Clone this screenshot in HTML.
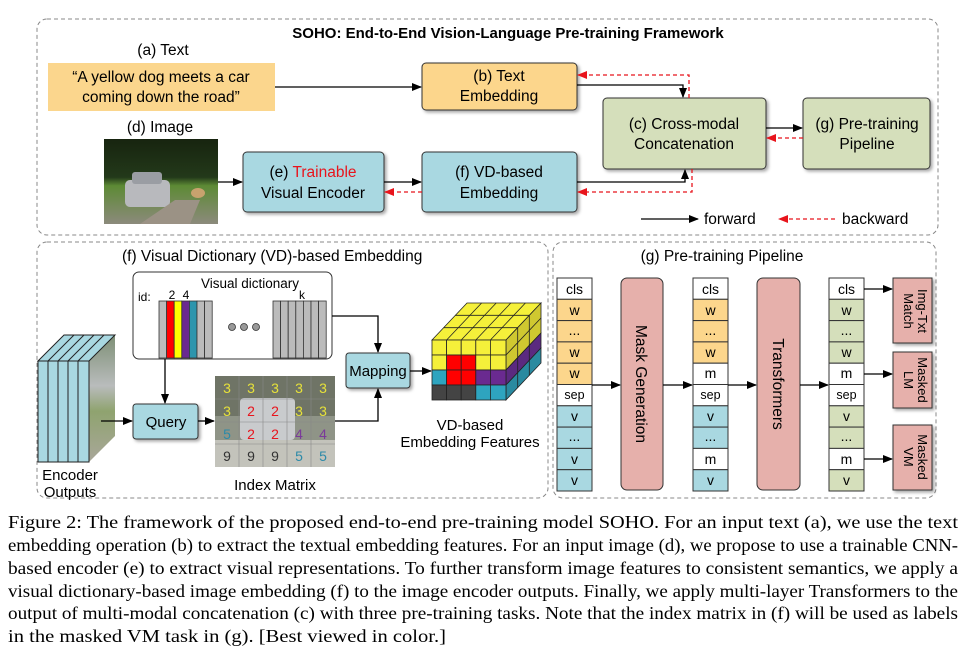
<!DOCTYPE html>
<html><head><meta charset="utf-8"><style>
html,body{margin:0;padding:0;background:#fff;}
svg{display:block;}
text{font-family:"Liberation Sans",sans-serif;}
.c{font-family:"Liberation Serif",serif;font-size:18px;fill:#000;}
</style></head><body>
<svg width="974" height="655" viewBox="0 0 974 655" xmlns="http://www.w3.org/2000/svg">
<defs>
<marker id="ab" markerWidth="10" markerHeight="8" refX="9" refY="4" orient="auto" markerUnits="userSpaceOnUse"><path d="M0,0 L10,4 L0,8 z" fill="#000"/></marker>
<marker id="ar" markerWidth="10" markerHeight="8" refX="9" refY="4" orient="auto" markerUnits="userSpaceOnUse"><path d="M0,0 L10,4 L0,8 z" fill="#e8141c"/></marker>
<filter id="sh" x="-10%" y="-10%" width="125%" height="130%"><feDropShadow dx="2" dy="2" stdDeviation="1.5" flood-color="#000" flood-opacity="0.35"/></filter>
<linearGradient id="img" x1="0" y1="0" x2="0" y2="1"><stop offset="0" stop-color="#17240f"/><stop offset="0.45" stop-color="#23391a"/><stop offset="0.55" stop-color="#5d8a35"/><stop offset="1" stop-color="#8c8a7c"/></linearGradient>
<linearGradient id="side" x1="0" y1="0" x2="0" y2="1"><stop offset="0" stop-color="#7d8f75"/><stop offset="0.4" stop-color="#b9bcbc"/><stop offset="0.6" stop-color="#8fa36f"/><stop offset="1" stop-color="#a9a79a"/></linearGradient>
</defs>

<rect x="37" y="19" width="901" height="216" rx="10" fill="none" stroke="#888" stroke-dasharray="4,3"/>
<text x="508" y="38" text-anchor="middle" font-size="15" font-weight="bold">SOHO: End-to-End Vision-Language Pre-training Framework</text>

<text x="163" y="55" text-anchor="middle" font-size="15.5">(a) Text</text>
<rect x="48" y="63" width="227" height="48" fill="#fbd68d"/>
<text x="161" y="82" text-anchor="middle" font-size="15.5">“A yellow dog meets a car</text>
<text x="161" y="102" text-anchor="middle" font-size="15.5">coming down the road”</text>

<rect x="422" y="63" width="155" height="47" rx="4" fill="#fcd68c" stroke="#333" filter="url(#sh)"/>
<text x="499" y="81" text-anchor="middle" font-size="15.5">(b) Text</text>
<text x="499" y="101" text-anchor="middle" font-size="15.5">Embedding</text>

<text x="160" y="132" text-anchor="middle" font-size="15.5">(d) Image</text>
<rect x="104" y="139" width="114" height="85" fill="url(#img)"/>
<rect x="125" y="180" width="45" height="27" rx="5" fill="#b8b9bd"/>
<rect x="132" y="172" width="30" height="12" rx="3" fill="#9a9da3"/>
<polygon points="140,224 175,200 200,200 190,224" fill="#9b9285"/>
<ellipse cx="198" cy="193" rx="7" ry="5" fill="#c8a26e"/>

<rect x="243" y="152" width="141" height="60" rx="4" fill="#a9d8e1" stroke="#333" filter="url(#sh)"/>
<text x="313" y="177" text-anchor="middle" font-size="15.5">(e) <tspan fill="#e8141c">Trainable</tspan></text>
<text x="313" y="198" text-anchor="middle" font-size="15.5">Visual Encoder</text>

<rect x="422" y="152" width="155" height="60" rx="4" fill="#a9d8e1" stroke="#333" filter="url(#sh)"/>
<text x="499" y="177" text-anchor="middle" font-size="15.5">(f) VD-based</text>
<text x="499" y="198" text-anchor="middle" font-size="15.5">Embedding</text>

<rect x="603" y="98" width="163" height="71" rx="4" fill="#d5dfbb" stroke="#333" filter="url(#sh)"/>
<text x="684" y="129" text-anchor="middle" font-size="15.5">(c) Cross-modal</text>
<text x="684" y="149" text-anchor="middle" font-size="15.5">Concatenation</text>

<rect x="803" y="98" width="127" height="71" rx="4" fill="#d5dfbb" stroke="#333" filter="url(#sh)"/>
<text x="867" y="129" text-anchor="middle" font-size="15.5">(g) Pre-training</text>
<text x="867" y="149" text-anchor="middle" font-size="15.5">Pipeline</text>

<line x1="275" y1="87" x2="421" y2="87" stroke="#000" stroke-width="1.3" marker-end="url(#ab)"/>
<polyline points="577,85 683,85 683,97" fill="none" stroke="#000" stroke-width="1.3" marker-end="url(#ab)"/>
<polyline points="689,98 689,75 578,75" fill="none" stroke="#e8141c" stroke-width="1.3" stroke-dasharray="4,3" marker-end="url(#ar)"/>
<line x1="218" y1="182" x2="242" y2="182" stroke="#000" stroke-width="1.3" marker-end="url(#ab)"/>
<line x1="384" y1="182" x2="421" y2="182" stroke="#000" stroke-width="1.3" marker-end="url(#ab)"/>
<line x1="422" y1="192" x2="385" y2="192" stroke="#e8141c" stroke-width="1.3" stroke-dasharray="4,3" marker-end="url(#ar)"/>
<polyline points="577,182 685,182 685,170" fill="none" stroke="#000" stroke-width="1.3" marker-end="url(#ab)"/>
<polyline points="692,169 692,192 578,192" fill="none" stroke="#e8141c" stroke-width="1.3" stroke-dasharray="4,3" marker-end="url(#ar)"/>
<line x1="766" y1="128" x2="802" y2="128" stroke="#000" stroke-width="1.3" marker-end="url(#ab)"/>
<line x1="803" y1="138" x2="767" y2="138" stroke="#e8141c" stroke-width="1.3" stroke-dasharray="4,3" marker-end="url(#ar)"/>
<line x1="641" y1="219" x2="698" y2="219" stroke="#000" stroke-width="1.3" marker-end="url(#ab)"/>
<text x="704" y="224" font-size="15.5">forward</text>
<line x1="835" y1="219" x2="779" y2="219" stroke="#e8141c" stroke-width="1.3" stroke-dasharray="4,3" marker-end="url(#ar)"/>
<text x="842" y="224" font-size="15.5">backward</text>

<rect x="37" y="242" width="511" height="256" rx="10" fill="none" stroke="#888" stroke-dasharray="4,3"/>
<text x="122" y="261" font-size="15.5">(f) Visual Dictionary (VD)-based Embedding</text>

<rect x="133" y="272" width="199" height="87" rx="6" fill="#fff" stroke="#333"/>
<text x="250" y="288" text-anchor="middle" font-size="13.5">Visual dictionary</text>
<text x="138" y="301" font-size="12">id:</text>
<text x="172" y="299" text-anchor="middle" font-size="12">2</text>
<text x="186" y="299" text-anchor="middle" font-size="12">4</text>
<text x="302" y="299" text-anchor="middle" font-size="12">k</text>
<g stroke="#333" stroke-width="0.8">
<rect x="159" y="301" width="7.6" height="57" fill="#bbb"/>
<rect x="166.6" y="301" width="7.6" height="57" fill="#f00"/>
<rect x="174.2" y="301" width="7.6" height="57" fill="#ff0"/>
<rect x="181.8" y="301" width="7.6" height="57" fill="#6a2a90"/>
<rect x="189.4" y="301" width="7.6" height="57" fill="#2d95ad"/>
<rect x="197" y="301" width="7.6" height="57" fill="#bbb"/>
<rect x="204.6" y="301" width="7.6" height="57" fill="#bbb"/>
<rect x="273" y="301" width="7.6" height="57" fill="#bbb"/>
<rect x="280.6" y="301" width="7.6" height="57" fill="#bbb"/>
<rect x="288.2" y="301" width="7.6" height="57" fill="#bbb"/>
<rect x="295.8" y="301" width="7.6" height="57" fill="#bbb"/>
<rect x="303.4" y="301" width="7.6" height="57" fill="#bbb"/>
<rect x="311" y="301" width="7.6" height="57" fill="#bbb"/>
<rect x="318.6" y="301" width="7.6" height="57" fill="#bbb"/>
<circle cx="232" cy="327" r="3.5" fill="#999"/><circle cx="244" cy="327" r="3.5" fill="#999"/><circle cx="256" cy="327" r="3.5" fill="#999"/>
</g>

<polygon points="89,361 115,335 115,436 89,462" fill="url(#side)"/>
<g stroke="#222" stroke-width="1">
<polygon points="38,361 64,335 115,335 89,361" fill="#a9d8e1"/>
<line x1="48" y1="361" x2="74" y2="335"/><line x1="58" y1="361" x2="84" y2="335"/><line x1="68" y1="361" x2="94" y2="335"/><line x1="78" y1="361" x2="104" y2="335"/>
<rect x="38" y="361" width="10" height="101" fill="#a9d8e1"/>
<rect x="48" y="361" width="10" height="101" fill="#a9d8e1"/>
<rect x="58" y="361" width="10" height="101" fill="#a9d8e1"/>
<rect x="68" y="361" width="10" height="101" fill="#a9d8e1"/>
<rect x="78" y="361" width="11" height="101" fill="#a9d8e1"/>
</g>
<text x="70" y="480" text-anchor="middle" font-size="15">Encoder</text>
<text x="70" y="497" text-anchor="middle" font-size="15">Outputs</text>

<line x1="101" y1="421" x2="132" y2="421" stroke="#000" stroke-width="1.3" marker-end="url(#ab)"/>
<line x1="165" y1="359" x2="165" y2="403" stroke="#000" stroke-width="1.3" marker-end="url(#ab)"/>
<rect x="133" y="404" width="65" height="35" rx="3" fill="#a9d8e1" stroke="#333" filter="url(#sh)"/>
<text x="166" y="427" text-anchor="middle" font-size="15">Query</text>
<line x1="198" y1="421" x2="214" y2="421" stroke="#000" stroke-width="1.3" marker-end="url(#ab)"/>

<rect x="215" y="376" width="120" height="91" fill="#8f9487"/>
<rect x="215" y="376" width="120" height="40" fill="#6f7466"/>
<rect x="240" y="398" width="55" height="42" rx="4" fill="#c9cbcd"/>
<rect x="215" y="440" width="120" height="27" fill="#c3c3bb"/>
<g stroke="#888" stroke-width="0.6" fill="none">
<line x1="239" y1="376" x2="239" y2="467"/><line x1="263" y1="376" x2="263" y2="467"/><line x1="287" y1="376" x2="287" y2="467"/><line x1="311" y1="376" x2="311" y2="467"/>
<line x1="215" y1="399" x2="335" y2="399"/><line x1="215" y1="422" x2="335" y2="422"/><line x1="215" y1="444" x2="335" y2="444"/>
</g>
<g font-size="14" text-anchor="middle">
<text x="227" y="393" fill="#e6e13a">3</text><text x="251" y="393" fill="#e6e13a">3</text><text x="275" y="393" fill="#e6e13a">3</text><text x="299" y="393" fill="#e6e13a">3</text><text x="323" y="393" fill="#e6e13a">3</text>
<text x="227" y="416" fill="#e6e13a">3</text><text x="251" y="416" fill="#e8141c">2</text><text x="275" y="416" fill="#e8141c">2</text><text x="299" y="416" fill="#e6e13a">3</text><text x="323" y="416" fill="#e6e13a">3</text>
<text x="227" y="439" fill="#2d8aa8">5</text><text x="251" y="439" fill="#e8141c">2</text><text x="275" y="439" fill="#e8141c">2</text><text x="299" y="439" fill="#7a3a9a">4</text><text x="323" y="439" fill="#7a3a9a">4</text>
<text x="227" y="461" fill="#333">9</text><text x="251" y="461" fill="#333">9</text><text x="275" y="461" fill="#333">9</text><text x="299" y="461" fill="#2d8aa8">5</text><text x="323" y="461" fill="#2d8aa8">5</text>
</g>
<text x="275" y="490" text-anchor="middle" font-size="15">Index Matrix</text>

<polyline points="335,421 378,421 378,389" fill="none" stroke="#000" stroke-width="1.3" marker-end="url(#ab)"/>
<polyline points="332,316 378,316 378,352" fill="none" stroke="#000" stroke-width="1.3" marker-end="url(#ab)"/>
<rect x="346" y="353" width="64" height="35" rx="3" fill="#a9d8e1" stroke="#333" filter="url(#sh)"/>
<text x="378" y="376" text-anchor="middle" font-size="15">Mapping</text>
<line x1="410" y1="371" x2="431" y2="371" stroke="#000" stroke-width="1.3" marker-end="url(#ab)"/>

<g stroke="#222" stroke-width="0.8">
<polygon points="432,340 467,303 541,303 506,340" fill="#f5f03a"/>
<line x1="446.6" y1="340" x2="481.6" y2="303"/><line x1="461.2" y1="340" x2="496.2" y2="303"/><line x1="475.8" y1="340" x2="510.8" y2="303"/><line x1="490.4" y1="340" x2="525.4" y2="303"/>
<line x1="443.7" y1="327.7" x2="517.7" y2="327.7"/><line x1="455.3" y1="315.3" x2="529.3" y2="315.3"/>
<polygon points="506,340 541,303 541,333 506,370" fill="#cfc830"/>
<polygon points="506,370 541,333 541,348 506,385" fill="#5b2a80"/>
<polygon points="506,385 541,348 541,363 506,400" fill="#2a8aa0"/>
<line x1="506" y1="355" x2="541" y2="318"/>
<line x1="517.7" y1="327.7" x2="517.7" y2="387.7"/><line x1="529.3" y1="315.3" x2="529.3" y2="375.3"/>
<rect x="432" y="340" width="14.6" height="15" fill="#f5f03a"/><rect x="446.6" y="340" width="14.6" height="15" fill="#f5f03a"/><rect x="461.2" y="340" width="14.6" height="15" fill="#f5f03a"/><rect x="475.8" y="340" width="14.6" height="15" fill="#f5f03a"/><rect x="490.4" y="340" width="15.6" height="15" fill="#f5f03a"/>
<rect x="432" y="355" width="14.6" height="15" fill="#f5f03a"/><rect x="446.6" y="355" width="14.6" height="15" fill="#f00"/><rect x="461.2" y="355" width="14.6" height="15" fill="#f00"/><rect x="475.8" y="355" width="14.6" height="15" fill="#f5f03a"/><rect x="490.4" y="355" width="15.6" height="15" fill="#f5f03a"/>
<rect x="432" y="370" width="14.6" height="15" fill="#2ea4bf"/><rect x="446.6" y="370" width="14.6" height="15" fill="#f00"/><rect x="461.2" y="370" width="14.6" height="15" fill="#f00"/><rect x="475.8" y="370" width="14.6" height="15" fill="#6a2a90"/><rect x="490.4" y="370" width="15.6" height="15" fill="#6a2a90"/>
<rect x="432" y="385" width="14.6" height="15" fill="#444"/><rect x="446.6" y="385" width="14.6" height="15" fill="#444"/><rect x="461.2" y="385" width="14.6" height="15" fill="#444"/><rect x="475.8" y="385" width="14.6" height="15" fill="#2ea4bf"/><rect x="490.4" y="385" width="15.6" height="15" fill="#2ea4bf"/>
</g>
<text x="470" y="430" text-anchor="middle" font-size="15">VD-based</text>
<text x="470" y="447" text-anchor="middle" font-size="15">Embedding Features</text>

<rect x="553" y="242" width="383" height="256" rx="10" fill="none" stroke="#888" stroke-dasharray="4,3"/>
<text x="722" y="261" text-anchor="middle" font-size="15.5">(g) Pre-training Pipeline</text>

<g stroke="#333" stroke-width="1">
<rect x="557" y="278" width="35" height="21.3" fill="#fff"/>
<rect x="557" y="299.3" width="35" height="21.3" fill="#fcd68c"/>
<rect x="557" y="320.6" width="35" height="21.3" fill="#fcd68c"/>
<rect x="557" y="341.9" width="35" height="21.3" fill="#fcd68c"/>
<rect x="557" y="363.2" width="35" height="21.3" fill="#fcd68c"/>
<rect x="557" y="384.5" width="35" height="21.3" fill="#fff"/>
<rect x="557" y="405.8" width="35" height="21.3" fill="#a9d8e1"/>
<rect x="557" y="427.1" width="35" height="21.3" fill="#a9d8e1"/>
<rect x="557" y="448.4" width="35" height="21.3" fill="#a9d8e1"/>
<rect x="557" y="469.7" width="35" height="21.3" fill="#a9d8e1"/>
<rect x="693" y="278" width="35" height="21.3" fill="#fff"/>
<rect x="693" y="299.3" width="35" height="21.3" fill="#fcd68c"/>
<rect x="693" y="320.6" width="35" height="21.3" fill="#fcd68c"/>
<rect x="693" y="341.9" width="35" height="21.3" fill="#fcd68c"/>
<rect x="693" y="363.2" width="35" height="21.3" fill="#fff"/>
<rect x="693" y="384.5" width="35" height="21.3" fill="#fff"/>
<rect x="693" y="405.8" width="35" height="21.3" fill="#a9d8e1"/>
<rect x="693" y="427.1" width="35" height="21.3" fill="#a9d8e1"/>
<rect x="693" y="448.4" width="35" height="21.3" fill="#fff"/>
<rect x="693" y="469.7" width="35" height="21.3" fill="#a9d8e1"/>
<rect x="829" y="278" width="35" height="21.3" fill="#fff"/>
<rect x="829" y="299.3" width="35" height="21.3" fill="#d5dfbb"/>
<rect x="829" y="320.6" width="35" height="21.3" fill="#d5dfbb"/>
<rect x="829" y="341.9" width="35" height="21.3" fill="#d5dfbb"/>
<rect x="829" y="363.2" width="35" height="21.3" fill="#fff"/>
<rect x="829" y="384.5" width="35" height="21.3" fill="#fff"/>
<rect x="829" y="405.8" width="35" height="21.3" fill="#d5dfbb"/>
<rect x="829" y="427.1" width="35" height="21.3" fill="#d5dfbb"/>
<rect x="829" y="448.4" width="35" height="21.3" fill="#fff"/>
<rect x="829" y="469.7" width="35" height="21.3" fill="#d5dfbb"/>
</g>
<g font-size="14" text-anchor="middle">
<text x="574.5" y="294">cls</text><text x="574.5" y="315">w</text><text x="574.5" y="335">...</text><text x="574.5" y="357">w</text><text x="574.5" y="378">w</text><text x="574.5" y="399" font-size="12.5">sep</text><text x="574.5" y="421">v</text><text x="574.5" y="441">...</text><text x="574.5" y="464">v</text><text x="574.5" y="485">v</text>
<text x="710.5" y="294">cls</text><text x="710.5" y="315">w</text><text x="710.5" y="335">...</text><text x="710.5" y="357">w</text><text x="710.5" y="378">m</text><text x="710.5" y="399" font-size="12.5">sep</text><text x="710.5" y="421">v</text><text x="710.5" y="441">...</text><text x="710.5" y="464">m</text><text x="710.5" y="485">v</text>
<text x="846.5" y="294">cls</text><text x="846.5" y="315">w</text><text x="846.5" y="335">...</text><text x="846.5" y="357">w</text><text x="846.5" y="378">m</text><text x="846.5" y="399" font-size="12.5">sep</text><text x="846.5" y="421">v</text><text x="846.5" y="441">...</text><text x="846.5" y="464">m</text><text x="846.5" y="485">v</text>
</g>

<rect x="621" y="278" width="42" height="212" rx="6" fill="#e6b0ab" stroke="#333"/>
<text transform="translate(636,384) rotate(90)" text-anchor="middle" font-size="15.5">Mask Generation</text>
<rect x="757" y="278" width="43" height="212" rx="6" fill="#e6b0ab" stroke="#333"/>
<text transform="translate(773,384) rotate(90)" text-anchor="middle" font-size="15.5">Transformers</text>

<g stroke="#000" stroke-width="1.3">
<line x1="592" y1="385" x2="620" y2="385" marker-end="url(#ab)"/>
<line x1="663" y1="385" x2="692" y2="385" marker-end="url(#ab)"/>
<line x1="728" y1="385" x2="756" y2="385" marker-end="url(#ab)"/>
<line x1="800" y1="385" x2="828" y2="385" marker-end="url(#ab)"/>
<line x1="864" y1="289" x2="892" y2="289" marker-end="url(#ab)"/>
<line x1="864" y1="374" x2="892" y2="374" marker-end="url(#ab)"/>
<line x1="864" y1="459" x2="892" y2="459" marker-end="url(#ab)"/>
</g>
<rect x="893" y="278" width="39" height="65" fill="#e6b0ab" stroke="#333" filter="url(#sh)"/>
<text transform="translate(918,311) rotate(90)" text-anchor="middle" font-size="13">Img-Txt</text>
<text transform="translate(904,311) rotate(90)" text-anchor="middle" font-size="13">Match</text>
<rect x="893" y="352" width="39" height="56" fill="#e6b0ab" stroke="#333" filter="url(#sh)"/>
<text transform="translate(918,380) rotate(90)" text-anchor="middle" font-size="13">Masked</text>
<text transform="translate(904,380) rotate(90)" text-anchor="middle" font-size="13">LM</text>
<rect x="893" y="425" width="39" height="65" fill="#e6b0ab" stroke="#333" filter="url(#sh)"/>
<text transform="translate(918,457) rotate(90)" text-anchor="middle" font-size="13">Masked</text>
<text transform="translate(904,457) rotate(90)" text-anchor="middle" font-size="13">VM</text>

<text class="c" x="8" y="528" textLength="950" lengthAdjust="spacingAndGlyphs">Figure 2:  The framework of the proposed end-to-end pre-training model SOHO. For an input text (a), we use the text</text>
<text class="c" x="8" y="551" textLength="950" lengthAdjust="spacingAndGlyphs">embedding operation (b) to extract the textual embedding features. For an input image (d), we propose to use a trainable CNN-</text>
<text class="c" x="8" y="574" textLength="950" lengthAdjust="spacingAndGlyphs">based encoder (e) to extract visual representations.  To further transform image features to consistent semantics, we apply a</text>
<text class="c" x="8" y="597" textLength="950" lengthAdjust="spacingAndGlyphs">visual dictionary-based image embedding (f) to the image encoder outputs. Finally, we apply multi-layer Transformers to the</text>
<text class="c" x="8" y="619" textLength="950" lengthAdjust="spacingAndGlyphs">output of multi-modal concatenation (c) with three pre-training tasks. Note that the index matrix in (f) will be used as labels</text>
<text class="c" x="8" y="642" textLength="438" lengthAdjust="spacingAndGlyphs">in the masked VM task in (g). [Best viewed in color.]</text>
</svg>
</body></html>
